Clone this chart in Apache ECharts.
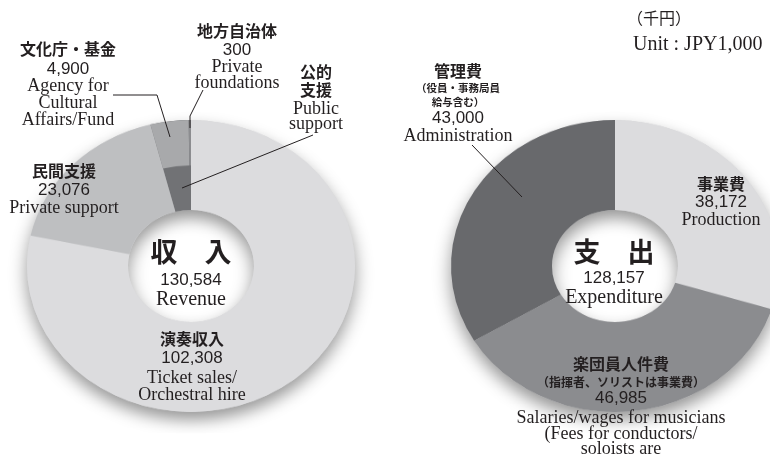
<!DOCTYPE html>
<html>
<head>
<meta charset="utf-8">
<script src="https://cdn.jsdelivr.net/npm/echarts@6/dist/echarts.min.js"></script>
<style>
  html, body { margin: 0; padding: 0; background: #fff; }
  #stage { position: relative; width: 770px; height: 454px; overflow: hidden; }
  #rings { position: absolute; left: 0; top: 0; width: 770px; height: 454px;
           transform: scaleY(0.89); transform-origin: 0 266px; }
  #texts { position: absolute; left: 0; top: 0; width: 770px; height: 454px; }
</style>
</head>
<body>
<div id="stage">
  <div id="rings"></div>
  <div id="texts"></div>
</div>
<script>
// Revenue (unit: JPY 1,000)
const revenueNames = ['演奏収入', '民間支援', '文化庁・基金', '地方自治体'];
const revenueValues = [102308, 23076, 4900, 300];
const revenueEnglish = [
  ['Ticket sales/', 'Orchestral hire'],
  ['Private support'],
  ['Agency for', 'Cultural', 'Affairs/Fund'],
  ['Private', 'foundations']
];
const publicSupportName = ['公的', '支援'];
const publicSupportEnglish = ['Public', 'support'];

// Expenditure (unit: JPY 1,000)
const expenseNames = ['事業費', '楽団員人件費', '管理費'];
const expenseNotes = [[], ['（指揮者、ソリストは事業費）'], ['（役員・事務局員', '給与含む）']];
const expenseValues = [38172, 46985, 43000];
const expenseEnglish = [
  ['Production'],
  ['Salaries/wages for musicians', '(Fees for conductors/', 'soloists are'],
  ['Administration']
];

const centerTitles = { revenue: ['収　入', 'Revenue'], expense: ['支　出', 'Expenditure'] };
const unitLines = ['（千円）', 'Unit : JPY1,000'];

// ---------- ring geometry & colours ----------
const INNER = 63, OUTER = 164, SPLIT = 113;
const leftCenter = [191, 266], rightCenter = [615, 266];
const revenueColors = ['#dcdcde', '#bebfc1', '#a8a9ab', '#8c8d90'];
const publicColor = '#717275';
const expenseColors = ['#dcdcde', '#8b8c8f', '#68696c'];
const CLEAR = 'rgba(0,0,0,0)';

const sum = a => a.reduce((s, v) => s + v, 0);
const fmt = v => v.toLocaleString('en-US');
const publicSupport = revenueValues[2] + revenueValues[3];

function baseRing(center) {
  return {
    type: 'pie', center, radius: [INNER, OUTER], silent: true, z: 1,
    label: { show: false }, labelLine: { show: false },
    emphasis: { disabled: true },
    data: [{ value: 1, itemStyle: {
      color: '#d8d8da', borderWidth: 0,
      shadowBlur: 18, shadowOffsetY: 9, shadowColor: 'rgba(0,0,0,0.42)'
    } }]
  };
}
function ring(center, radius, values, colors, z) {
  return {
    type: 'pie', center, radius, startAngle: 90, clockwise: true, silent: true, z,
    avoidLabelOverlap: false, minAngle: 0,
    label: { show: false }, labelLine: { show: false },
    emphasis: { disabled: true },
    itemStyle: { borderWidth: 0 },
    data: values.map((v, i) => ({ value: v, itemStyle: { color: colors[i], borderWidth: 0 } }))
  };
}

const rings = echarts.init(document.getElementById('rings'), null, { renderer: 'canvas' });
rings.setOption({
  animation: false,
  series: [
    baseRing(leftCenter),
    ring(leftCenter, [INNER, OUTER],
      [revenueValues[0], revenueValues[1], publicSupport],
      [revenueColors[0], revenueColors[1], publicColor], 2),
    ring(leftCenter, [SPLIT, OUTER], revenueValues,
      [CLEAR, CLEAR, revenueColors[2], revenueColors[3]], 3),
    baseRing(rightCenter),
    ring(rightCenter, [INNER, OUTER], expenseValues, expenseColors, 2)
  ]
});

// ---------- labels ----------
const INK = '#231f20';
const F = {
  jp: 'bold 16px "Noto Sans CJK JP"',
  note: 'bold 10.5px "Noto Sans CJK JP"',
  noteWide: 'bold 12px "Noto Sans CJK JP"',
  big: 'bold 27px "Noto Sans CJK JP"',
  num: '17px "Liberation Sans"',
  en: '18px "Liberation Serif"',
  enBig: '20px "Liberation Serif"'
};

function textEl(t, x, y, font, align) {
  return {
    type: 'text', x, y, silent: true,
    style: {
      text: t, fill: INK, font,
      align: align || 'center', verticalAlign: 'middle',
      textAlign: align || 'center', textVerticalAlign: 'middle'
    }
  };
}
function block(x, rows) {
  return rows.map(r => textEl(r[0], x, r[1], r[2]));
}
function line(points) {
  return { type: 'polyline', silent: true, shape: { points },
           style: { stroke: INK, lineWidth: 1, fill: null } };
}

const els = [];
// revenue labels
els.push(...block(191, [
  [centerTitles.revenue[0], 250, F.big],
  [fmt(sum(revenueValues)), 279, F.num],
  [centerTitles.revenue[1], 298, F.enBig]
]));
els.push(...block(192, [
  [revenueNames[0], 338, F.jp],
  [fmt(revenueValues[0]), 357, F.num],
  [revenueEnglish[0][0], 377, F.en],
  [revenueEnglish[0][1], 394, F.en]
]));
els.push(...block(64, [
  [revenueNames[1], 170, F.jp],
  [fmt(revenueValues[1]), 189, F.num],
  [revenueEnglish[1][0], 207, F.en]
]));
els.push(...block(68, [
  [revenueNames[2], 48, F.jp],
  [fmt(revenueValues[2]), 68, F.num],
  [revenueEnglish[2][0], 85, F.en],
  [revenueEnglish[2][1], 102, F.en],
  [revenueEnglish[2][2], 119, F.en]
]));
els.push(...block(237, [
  [revenueNames[3], 30, F.jp],
  [fmt(revenueValues[3]), 49, F.num],
  [revenueEnglish[3][0], 66, F.en],
  [revenueEnglish[3][1], 82, F.en]
]));
els.push(...block(316, [
  [publicSupportName[0], 71, F.jp],
  [publicSupportName[1], 89, F.jp],
  [publicSupportEnglish[0], 108, F.en],
  [publicSupportEnglish[1], 123, F.en]
]));
els.push(line([[113, 95], [157, 95], [170, 137]]));
els.push(line([[203, 90], [190, 116], [190, 128]]));
els.push(line([[313, 135], [182, 188]]));

// expenditure labels
els.push(...block(614, [
  [centerTitles.expense[0], 250, F.big],
  [fmt(sum(expenseValues)), 277, F.num],
  [centerTitles.expense[1], 296, F.enBig]
]));
els.push(...block(721, [
  [expenseNames[0], 183, F.jp],
  [fmt(expenseValues[0]), 201, F.num],
  [expenseEnglish[0][0], 219, F.en]
]));
els.push(...block(621, [
  [expenseNames[1], 363, F.jp],
  [expenseNotes[1][0], 381, F.noteWide],
  [fmt(expenseValues[1]), 397, F.num],
  [expenseEnglish[1][0], 417, F.en],
  [expenseEnglish[1][1], 433, F.en],
  [expenseEnglish[1][2], 448, F.en]
]));
els.push(...block(458, [
  [expenseNames[2], 70, F.jp],
  [expenseNotes[2][0], 87, F.note],
  [expenseNotes[2][1], 101, F.note],
  [fmt(expenseValues[2]), 117, F.num],
  [expenseEnglish[2][0], 135, F.en]
]));
els.push(line([[472, 145], [522, 197]]));

// unit note
els.push(textEl(unitLines[0], 627, 17, '16px "Noto Sans CJK JP"', 'left'));
els.push(textEl(unitLines[1], 633, 43, '20px "Liberation Serif"', 'left'));

const texts = echarts.init(document.getElementById('texts'), null, { renderer: 'svg' });
texts.setOption({ animation: false, graphic: { elements: els } });
</script>
</body>
</html>
